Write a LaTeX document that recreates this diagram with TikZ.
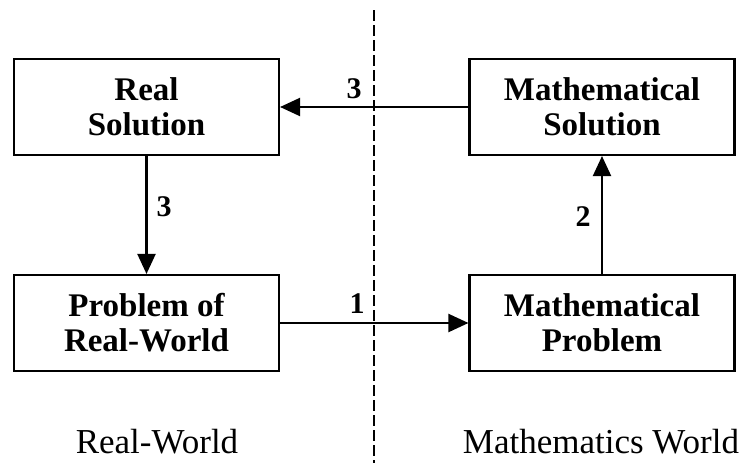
\documentclass[tikz,border=0pt]{standalone}
\usepackage{fontspec}
\setmainfont{Liberation Serif}
\usetikzlibrary{arrows.meta}
\tikzset{
  box/.style={draw, line width=2.1pt, minimum width=265pt, minimum height=96pt, inner sep=0pt, align=center, font=\fontsize{33}{35}\selectfont\bfseries},
  conn/.style={line width=2.1pt, -{Triangle[length=20pt,width=18pt]}},
  num/.style={font=\fontsize{30}{32}\selectfont\bfseries, inner sep=0pt},
  world/.style={font=\fontsize{35}{37}\selectfont, inner sep=0pt},
}
\begin{document}
\begin{tikzpicture}[x=1pt,y=-1pt]
\useasboundingbox (0,0) rectangle (745,463);
\coordinate (dtop) at (374,10);
\coordinate (dbot) at (374,463);
\draw[line width=1.5pt, dash pattern=on 11pt off 4pt] (dtop) -- (dbot);
\node[box] (rs) at (146.5,107) {Real\\Solution};
\node[box] (ms) at (602,107) {Mathematical\\Solution};
\node[box] (pr) at (146.5,323) {Problem of\\Real-World};
\node[box] (mp) at (602,323) {Mathematical\\Problem};
\draw[conn] (ms) -- (rs);
\draw[conn] (rs) -- (pr);
\draw[conn] (mp) -- (ms);
\draw[conn] (pr) -- (mp);
\node[num] (n3a) at (354,89) {3};
\node[num] (n3b) at (164,207) {3};
\node[num] (n2) at (583,217) {2};
\node[num] (n1) at (357,304) {1};
\node[world] (rw) at (157,442) {Real-World};
\node[world] (mw) at (601,442) {Mathematics World};
\end{tikzpicture}
\end{document}
